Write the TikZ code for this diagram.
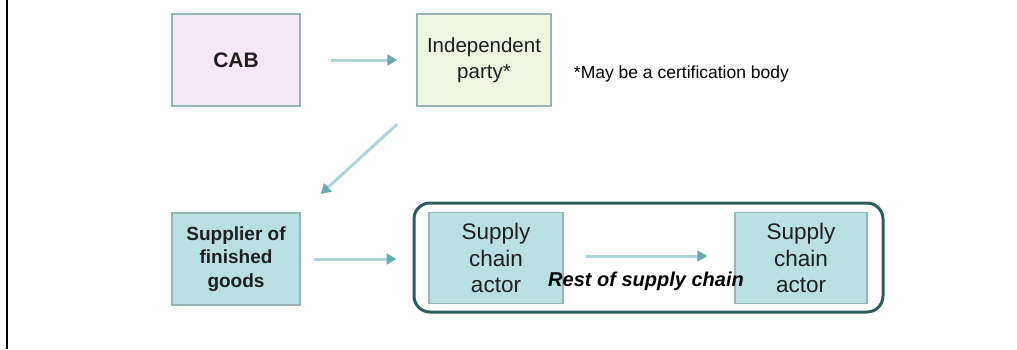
\documentclass[tikz,border=0pt]{standalone}
\usepackage{fontspec}
\setmainfont{Liberation Sans}
\usetikzlibrary{positioning,arrows.meta}

\definecolor{cabpink}{HTML}{F3E8F3}
\definecolor{partygreen}{HTML}{EEF5E1}
\definecolor{chainteal}{HTML}{B9DFE2}
\definecolor{boxedge}{HTML}{98B5B8}
\definecolor{flowline}{HTML}{AED5DA}
\definecolor{flowtip}{HTML}{6AAAB1}
\definecolor{groupedge}{HTML}{2F5B5D}

\tikzset{
  box/.style={draw=boxedge, line width=1.5pt, minimum width=128pt, minimum height=92pt,
    align=center, inner sep=2pt, text=black!88},
  flow/.style={draw=flowline, line width=3pt, -{Triangle[length=10pt,width=11pt,color=flowtip]}},
}

\begin{document}
\begin{tikzpicture}[x=1pt,y=-1pt]
\useasboundingbox (0,0) rectangle (1017,349);
\draw[line width=2.2pt] (7,0) -- (7,349);

% top row
\node[box, fill=cabpink, font=\fontsize{21}{24}\selectfont\bfseries] (cab) at (236,60) {CAB};
\node[box, fill=partygreen, minimum width=134pt, font=\fontsize{20.5}{26}\selectfont] (party) at (484,60) {Independent\\party*};
\node[right=22pt of party, yshift=-14pt, inner sep=0pt, font=\fontsize{17.5}{20}\selectfont] (note) {*May be a certification body};

% bottom row
\node[box, fill=chainteal, font=\fontsize{19}{23.5}\selectfont\bfseries] (supplier) at (236,259) {Supplier of\\finished\\goods};
\node[draw=groupedge, line width=3pt, rounded corners=16pt, minimum width=469pt, minimum height=109pt] (chain) at (648.5,257.5) {};
\node[box, fill=chainteal, minimum width=134pt, minimum height=91pt, font=\fontsize{22.5}{26.5}\selectfont] (actor1) at (496,258) {Supply\\chain\\actor};
\node[box, fill=chainteal, minimum width=132pt, minimum height=91pt, font=\fontsize{22.5}{26.5}\selectfont] (actor2) at (801,258) {Supply\\chain\\actor};
\node[font=\fontsize{20}{23}\selectfont\bfseries\itshape] (rest) at (646,281) {Rest of supply chain};

% connectors
\draw[flow, shorten <=30pt, shorten >=19pt] (cab) -- (party);
\draw[flow, shorten <=26pt, shorten >=27pt] (party.south west) -- (supplier.north east);
\draw[flow, shorten <=13pt, shorten >=16pt] (supplier.east) -- (supplier.east -| chain.west);
\draw[flow, shorten <=22pt, shorten >=27pt] ([yshift=2pt]actor1.east) -- ([yshift=2pt]actor1.east -| actor2.west);
\end{tikzpicture}
\end{document}
